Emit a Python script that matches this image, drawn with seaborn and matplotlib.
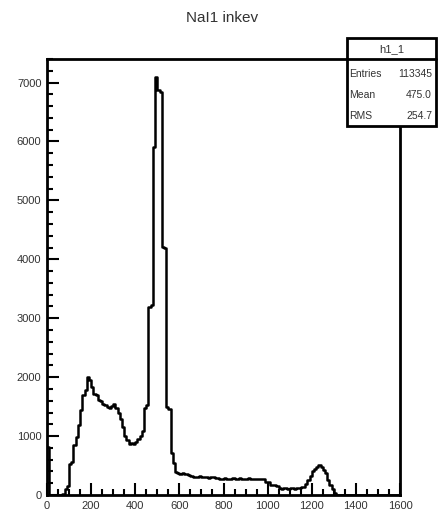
import numpy as np
import pandas as pd
import matplotlib
matplotlib.use("Agg")
import matplotlib.pyplot as plt
from matplotlib.ticker import MultipleLocator, AutoMinorLocator
import seaborn as sns

# Energy spectrum, 10 keV bins from 0 to 1600
bin_width = 10
x_min, x_max = 0, 1600
counts = [
    820, 0, 0, 0, 0, 0, 0, 20, 110, 150,
    520, 560, 850, 980, 1190, 1440, 1700, 1780, 2000, 1950,
    1830, 1720, 1690, 1620, 1600, 1540, 1520, 1490, 1480, 1510,
    1540, 1480, 1390, 1290, 1150, 1000, 930, 860, 880, 870,
    900, 950, 1000, 1080, 1470, 1520, 3190, 3220, 5900, 7090,
    6870, 6840, 4210, 4190, 1500, 1460, 710, 540, 390, 370,
    360, 380, 350, 360, 340, 320, 310, 300, 310, 320,
    300, 310, 300, 290, 310, 300, 290, 290, 270, 280,
    290, 270, 280, 275, 285, 270, 280, 290, 275, 270,
    280, 285, 270, 280, 275, 270, 280, 275, 265, 225,
    220, 170, 165, 170, 160, 115, 110, 120, 115, 110,
    115, 120, 110, 115, 120, 130, 130, 180, 250, 320,
    400, 440, 470, 510, 480, 420, 370, 260, 170, 100,
    40, 0, 0, 0, 0, 0, 0, 0, 0, 0,
    0, 0, 0, 0, 0, 0, 0, 0, 0, 0,
    0, 0, 0, 0, 0, 0, 0, 0, 0, 0,
]
title = "NaI1 inkev"
hist_name = "h1_1"
x_tick_values = [0, 200, 400, 600, 800, 1000, 1200, 1400, 1600]
y_tick_values = [0, 1000, 2000, 3000, 4000, 5000, 6000, 7000]

edges = np.arange(x_min, x_max + bin_width, bin_width)
centers = edges[:-1] + bin_width / 2
df = pd.DataFrame({"energy": centers, "count": np.asarray(counts, dtype=float)})

# summary statistics of the histogram
w = np.asarray(counts, dtype=float)
entries = int(w.sum())
mean = float((w * centers).sum() / w.sum())
rms = float(np.sqrt((w * (centers - mean) ** 2).sum() / w.sum()))

sns.set_theme(style="white")
plt.rcParams["font.family"] = ["Liberation Sans", "DejaVu Sans"]

fig = plt.figure(figsize=(4.38, 5.15), dpi=100)
W, H = 438, 515
ax = fig.add_axes([47 / W, 1 - 495 / H, (400 - 47) / W, (495 - 59) / H])

sns.histplot(data=df, x="energy", weights="count", binwidth=bin_width,
             binrange=(x_min, x_max), element="step", fill=False,
             color="black", linewidth=1.8, ax=ax)

ax.set_xlim(x_min, x_max)
ax.set_ylim(0, 7400)
ax.set_xlabel("")
ax.set_ylabel("")
ax.set_xticks(x_tick_values)
ax.set_xticklabels([str(v) for v in x_tick_values])
ax.set_yticks(y_tick_values)
ax.set_yticklabels([str(v) for v in y_tick_values])
ax.xaxis.set_minor_locator(MultipleLocator(50))
ax.yaxis.set_minor_locator(AutoMinorLocator(5))
ax.tick_params(axis="both", which="major", direction="in", length=8.5,
               width=1.5, color="black", labelsize=8, labelcolor="#333333",
               bottom=True, left=True, top=False, right=False, pad=4)
ax.tick_params(axis="both", which="minor", direction="in", length=4.5,
               width=1.5, color="black", bottom=True, left=True,
               top=False, right=False)
for s in ax.spines.values():
    s.set_visible(True)
    s.set_color("black")
    s.set_linewidth(2.0)

fig.text(222 / W, 1 - 18 / H, title, ha="center", va="center",
         fontsize=11, color="#333333")

# statistics box
bx0, bx1 = 347 / W, 436 / W
by_top, by_div, by_bot = 1 - 38 / H, 1 - 59 / H, 1 - 126 / H
box = plt.Rectangle((bx0, by_bot), bx1 - bx0, by_top - by_bot,
                    transform=fig.transFigure, facecolor="white",
                    edgecolor="black", linewidth=2.0, zorder=5)
fig.add_artist(box)
fig.add_artist(plt.Line2D([bx0, bx1], [by_div, by_div],
                          transform=fig.transFigure, color="black",
                          linewidth=2.0, zorder=6))
fig.text((bx0 + bx1) / 2, 1 - 49 / H, hist_name, ha="center", va="center",
         fontsize=8, color="#333333", zorder=7)
rows = [("Entries", f"{entries}"), ("Mean", f"{mean:.1f}"),
        ("RMS", f"{rms:.1f}")]
for k, (lab, val) in enumerate(rows):
    yy = 1 - (74 + 21 * k) / H
    fig.text(349 / W, yy, lab, ha="left", va="center", fontsize=7.5,
             color="#333333", zorder=7)
    fig.text(432 / W, yy, val, ha="right", va="center", fontsize=7.5,
             color="#333333", zorder=7)

fig.savefig("out.png", dpi=100, facecolor="white")
